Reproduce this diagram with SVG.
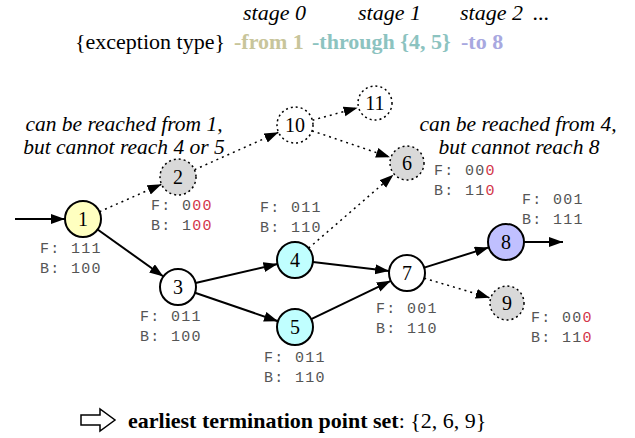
<svg xmlns="http://www.w3.org/2000/svg" width="635" height="438" viewBox="0 0 635 438">
<style>
.bg{fill:#fff}
.node{stroke:#000;stroke-width:2}
.dnode{stroke:#000;stroke-width:1.5;stroke-dasharray:2,3}
.num{font-family:"Liberation Serif",serif;font-size:20px;text-anchor:middle;fill:#000}
.lab{font-family:"Liberation Mono",monospace;font-size:15px;letter-spacing:1.3px;fill:#555}
.red{fill:#d3364a}
.ann{font-family:"Liberation Serif",serif;font-style:italic;font-size:21.5px;text-anchor:middle;fill:#000}
.hdr{font-family:"Liberation Serif",serif;font-size:22px;fill:#000}
.solid{stroke:#000;stroke-width:2;fill:none;marker-end:url(#ah)}
.dot{stroke:#000;stroke-width:1.5;stroke-dasharray:2,4;fill:none;marker-end:url(#ah)}
</style>
<defs>
<marker id="ah" markerUnits="userSpaceOnUse" markerWidth="16" markerHeight="12" refX="14" refY="5" orient="auto">
<path d="M0,0 L14,5 L0,10 z" fill="#000"/>
</marker>
</defs>
<rect class="bg" width="635" height="438"/>

<g id="header">
<text class="hdr" font-style="italic" x="243" y="20">stage 0</text>
<text class="hdr" font-style="italic" x="358" y="20">stage 1</text>
<text class="hdr" font-style="italic" x="460" y="20">stage 2<tspan x="533">...</tspan></text>
<text class="hdr" x="75" y="49">{exception type}<tspan x="234" font-weight="bold" fill="#c8c59a">-from 1</tspan><tspan x="312" font-weight="bold" fill="#8cc3c0">-through {4, 5}</tspan><tspan x="461" font-weight="bold" fill="#a8a8e0">-to 8</tspan></text>
</g>

<g id="annotations">
<text class="ann" x="124" y="131">can be reached from 1,</text>
<text class="ann" x="124" y="154">but cannot reach 4 or 5</text>
<text class="ann" x="518" y="131">can be reached from 4,</text>
<text class="ann" x="519" y="154">but cannot reach 8</text>
</g>

<g id="connectors">
<line class="solid" x1="15" y1="219" x2="65" y2="219"/>
<line class="solid" x1="97.6" y1="229.5" x2="163.4" y2="276.5"/>
<line class="dot" x1="99.5" y1="211.7" x2="161.5" y2="184.3"/>
<line class="dot" x1="194.5" y1="169.7" x2="278.5" y2="132.3"/>
<line class="dot" x1="312.4" y1="120.2" x2="357.6" y2="107.8"/>
<line class="dot" x1="312" y1="130.8" x2="390" y2="157.2"/>
<line class="dot" x1="308.6" y1="248.2" x2="393.4" y2="174.8"/>
<line class="solid" x1="195.5" y1="283" x2="277.5" y2="264"/>
<line class="solid" x1="195" y1="292.8" x2="278" y2="321.2"/>
<line class="solid" x1="312.9" y1="262.1" x2="389.1" y2="270.9"/>
<line class="solid" x1="311.2" y1="319.2" x2="390.8" y2="280.8"/>
<line class="solid" x1="424.2" y1="267.6" x2="488.8" y2="247.4"/>
<line class="dot" x1="424.2" y1="278.2" x2="489.8" y2="297.8"/>
<line class="solid" x1="524" y1="242" x2="563" y2="242"/>
</g>

<g id="n1">
<circle class="node" cx="83" cy="219" r="18" fill="#ffffc0"/>
<text class="num" x="83" y="226">1</text>
<text class="lab" x="40" y="253">F: 111</text>
<text class="lab" x="40" y="273">B: 100</text>
</g>
<g id="n2">
<circle class="dnode" cx="178" cy="177" r="18" fill="#d9d9d9"/>
<text class="num" x="178" y="184">2</text>
<text class="lab" x="151" y="210">F: 0<tspan class="red">00</tspan></text>
<text class="lab" x="151" y="230">B: 1<tspan class="red">00</tspan></text>
</g>
<g id="n10">
<circle class="dnode" cx="295" cy="125" r="18" fill="#fff"/>
<text class="num" x="295" y="132">10</text>
</g>
<g id="n11">
<circle class="dnode" cx="375" cy="103" r="17" fill="#fff"/>
<text class="num" x="375" y="110">11</text>
</g>
<g id="n6">
<circle class="dnode" cx="407" cy="163" r="17" fill="#d9d9d9"/>
<text class="num" x="407" y="170">6</text>
<text class="lab" x="434" y="175">F: 00<tspan class="red">0</tspan></text>
<text class="lab" x="434" y="195">B: 11<tspan class="red">0</tspan></text>
</g>
<g id="n3">
<circle class="node" cx="178" cy="287" r="18" fill="#fff"/>
<text class="num" x="178" y="294">3</text>
<text class="lab" x="140" y="321">F: 011</text>
<text class="lab" x="140" y="341">B: 100</text>
</g>
<g id="n4">
<circle class="node" cx="295" cy="260" r="18" fill="#c0ffff"/>
<text class="num" x="295" y="267">4</text>
<text class="lab" x="260" y="212">F: 011</text>
<text class="lab" x="260" y="232">B: 110</text>
</g>
<g id="n5">
<circle class="node" cx="295" cy="327" r="18" fill="#c0ffff"/>
<text class="num" x="295" y="334">5</text>
<text class="lab" x="264" y="362">F: 011</text>
<text class="lab" x="264" y="382">B: 110</text>
</g>
<g id="n7">
<circle class="node" cx="407" cy="273" r="18" fill="#fff"/>
<text class="num" x="407" y="280">7</text>
<text class="lab" x="376" y="313">F: 001</text>
<text class="lab" x="376" y="333">B: 110</text>
</g>
<g id="n8">
<circle class="node" cx="506" cy="242" r="18" fill="#c0c0ff"/>
<text class="num" x="506" y="249">8</text>
<text class="lab" x="522" y="204">F: 001</text>
<text class="lab" x="522" y="224">B: 111</text>
</g>
<g id="n9">
<circle class="dnode" cx="507" cy="303" r="17" fill="#d9d9d9"/>
<text class="num" x="507" y="310">9</text>
<text class="lab" x="531" y="322">F: 00<tspan class="red">0</tspan></text>
<text class="lab" x="531" y="342">B: 11<tspan class="red">0</tspan></text>
</g>

<g id="footer">
<path d="M81,415 L100,415 L100,409 L115,420 L100,431 L100,425 L81,425 z" fill="#fff" stroke="#000" stroke-width="1.5"/>
<text class="hdr" font-size="25" x="128" y="428"><tspan font-weight="bold">earliest termination point set</tspan>: {2, 6, 9}</text>
</g>
</svg>
